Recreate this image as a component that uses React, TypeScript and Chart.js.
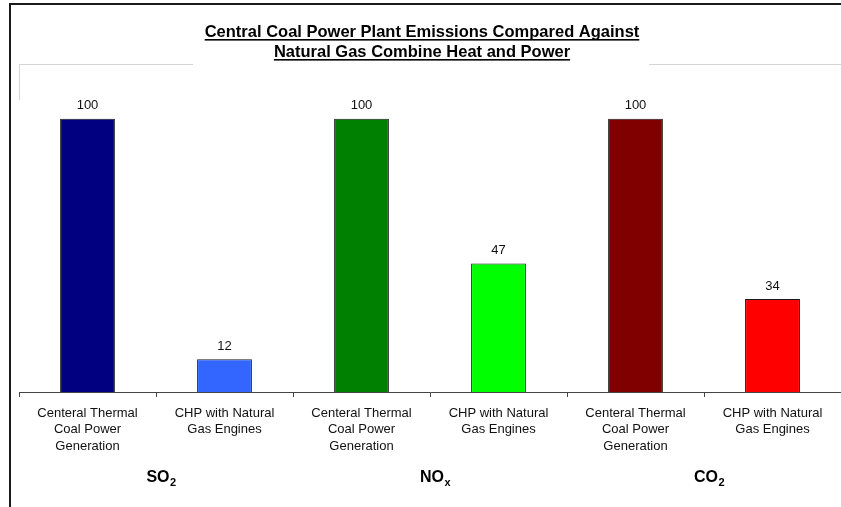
import React, { useEffect, useRef } from 'react';
import { Chart, registerables } from 'chart.js';

Chart.register(...registerables);

const categories: string[][] = [
  ['Centeral Thermal', 'Coal Power', 'Generation'],
  ['CHP with Natural', 'Gas Engines'],
  ['Centeral Thermal', 'Coal Power', 'Generation'],
  ['CHP with Natural', 'Gas Engines'],
  ['Centeral Thermal', 'Coal Power', 'Generation'],
  ['CHP with Natural', 'Gas Engines'],
];
const values = [100, 12, 100, 47, 100, 34];
const barColors = ['#000080', '#3366FF', '#008000', '#00FF00', '#800000', '#FF0000'];
const groupMain = ['SO', 'NO', 'CO'];
const groupSub = ['2', 'x', '2'];
const titleLines = [
  'Central Coal Power Plant Emissions Compared Against',
  'Natural Gas Combine Heat and Power',
];

const FONT = '"Liberation Sans", Arial, sans-serif';

const decor = {
  id: 'decor',
  beforeDraw(chart: any) {
    const { ctx, chartArea } = chart;
    ctx.save();
    ctx.fillStyle = '#fff';
    ctx.fillRect(0, 0, chart.width, chart.height);
    // plot area border (top/left, light gray)
    ctx.strokeStyle = '#d4d4d4';
    ctx.lineWidth = 1;
    ctx.beginPath();
    ctx.moveTo(chartArea.left + 0.5, chartArea.top + 0.5);
    ctx.lineTo(chart.width, chartArea.top + 0.5);
    ctx.moveTo(chartArea.left + 0.5, chartArea.top + 0.5);
    ctx.lineTo(chartArea.left + 0.5, chartArea.top + 36);
    ctx.stroke();
    // white title box
    ctx.fillStyle = '#fff';
    ctx.fillRect(193, 10, 456, 58);
    // outer frame
    ctx.strokeStyle = '#1a1a1a';
    ctx.lineWidth = 2;
    ctx.beginPath();
    ctx.moveTo(10, chart.height);
    ctx.lineTo(10, 4);
    ctx.lineTo(chart.width, 4);
    ctx.stroke();
    ctx.restore();
  },
  afterDraw(chart: any) {
    const { ctx } = chart;
    ctx.save();
    // data labels
    const meta = chart.getDatasetMeta(0);
    ctx.fillStyle = '#111';
    ctx.font = `13px ${FONT}`;
    ctx.textAlign = 'center';
    ctx.textBaseline = 'middle';
    meta.data.forEach((bar: any, i: number) => {
      ctx.fillText(String(values[i]), bar.x, bar.y - 13);
    });
    // title
    ctx.font = `bold 16.5px ${FONT}`;
    ctx.textAlign = 'left';
    ctx.textBaseline = 'alphabetic';
    const baselines = [37, 57];
    titleLines.forEach((t, i) => {
      const w = ctx.measureText(t).width;
      const x = 422 - w / 2;
      ctx.fillStyle = '#000';
      ctx.fillText(t, x, baselines[i]);
      ctx.fillRect(x, baselines[i] + 2, w, 1.6);
    });
    // group labels
    const xs = chart.scales.x;
    groupMain.forEach((m, g) => {
      const cx = (xs.getPixelForValue(g * 2) + xs.getPixelForValue(g * 2 + 1)) / 2 + 5;
      ctx.font = `bold 16px ${FONT}`;
      const wm = ctx.measureText(m).width;
      ctx.font = `bold 11px ${FONT}`;
      const ws = ctx.measureText(groupSub[g]).width;
      const x0 = cx - (wm + ws) / 2;
      ctx.fillStyle = '#000';
      ctx.font = `bold 16px ${FONT}`;
      ctx.fillText(m, x0, 482);
      ctx.font = `bold 11px ${FONT}`;
      ctx.fillText(groupSub[g], x0 + wm + 0.5, 486);
    });
    ctx.restore();
  },
};

export default function App() {
  const ref = useRef<HTMLCanvasElement>(null);
  useEffect(() => {
    if (!ref.current) return;
    const chart = new Chart(ref.current, {
      type: 'bar',
      data: {
        labels: categories,
        datasets: [
          {
            data: values,
            backgroundColor: barColors,
            borderColor: '#1a1a1a',
            borderWidth: 1,
            barPercentage: 0.4,
            categoryPercentage: 1,
          },
        ],
      },
      options: {
        responsive: false,
        animation: false,
        devicePixelRatio: 1,
        layout: { padding: { left: 19, top: 64, right: 0, bottom: 0 } },
        plugins: { legend: { display: false }, tooltip: { enabled: false }, title: { display: false } },
        scales: {
          x: {
            grid: { display: true, drawOnChartArea: false, drawTicks: true, tickLength: 5, offset: true, color: '#444' },
            border: { display: true, color: '#444', width: 1 },
            ticks: {
              color: '#111',
              font: { family: FONT, size: 13, lineHeight: 1.27 },
              padding: 8,
              maxRotation: 0,
              autoSkip: false,
            },
            afterFit: (s: any) => {
              s.height = 115;
            },
          },
          y: { display: false, min: 0, max: 120 },
        },
      },
      plugins: [decor],
    });
    return () => chart.destroy();
  }, []);
  return (
    <div style={{ position: 'fixed', left: 0, top: 0, width: 841, height: 507, overflow: 'hidden', background: '#fff' }}>
      <canvas ref={ref} width={841} height={507} style={{ display: 'block' }} />
    </div>
  );
}
